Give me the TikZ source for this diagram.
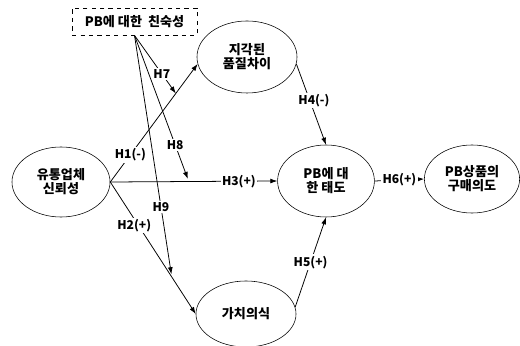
\documentclass[tikz,border=0pt]{standalone}
\usepackage{fontspec}
\setmainfont{Noto Sans CJK KR}
\usetikzlibrary{arrows.meta,shapes.geometric,positioning}

\tikzset{
  var/.style={draw,ellipse,inner sep=0pt,align=center,font=\bfseries\fontsize{9.3}{10}\selectfont},
  hyp/.style={fill=white,inner sep=1pt,font=\bfseries\fontsize{8.6}{9}\selectfont},
  link/.style={->,line width=0.55pt}
}

\begin{document}
\begin{tikzpicture}[>={Latex[length=5pt,width=3.5pt]},x=0.025cm,y=-0.025cm]
\useasboundingbox (0,0) rectangle (520,346);
% constructs
\node[var,minimum width=2.45cm,minimum height=1.75cm] (yutong) at (61,182) {유통업체\\신뢰성};
\node[var,minimum width=2.5cm,minimum height=1.8cm] (jigak) at (247,57) {지각된\\품질차이};
\node[var,minimum width=2.42cm,minimum height=1.8cm] (taedo) at (326,181) {PB에 대\\한 태도};
\node[var,minimum width=2.38cm,minimum height=1.7cm] (gumae) at (472,179) {PB상품의\\구매의도};
\node[var,minimum width=2.5cm,minimum height=1.65cm] (gachi) at (246,314) {가치의식};
\node[draw,dashed,inner sep=0pt,minimum width=3.12cm,minimum height=0.68cm,
  font=\bfseries\fontsize{9.3}{10}\selectfont] (chin) at (134.5,21.5) {PB에 대한\ \ 친숙성};
% main paths
\draw[link] (yutong.east) -- (jigak.188) node[hyp,pos=0.23]{H1(-)} coordinate[pos=0.75] (m1);
\draw[link] (yutong.east) -- (gachi.west) node[hyp,pos=0.33,xshift=-3pt]{H2(+)} coordinate[pos=0.72] (m2);
\draw[link] (yutong.east) -- (taedo.west) node[hyp,pos=0.77]{H3(+)} coordinate[pos=0.47] (m3);
\draw[link] (jigak.352) -- (taedo.north) node[hyp,pos=0.45,xshift=3pt]{H4(-)};
\draw[link] (gachi.8) -- (taedo.south) node[hyp,pos=0.5]{H5(+)};
\draw[link] (taedo.east) -- (gumae.west) node[hyp,pos=0.5]{H6(+)};
% moderation
\draw[link] (chin.south) -- (m1) node[hyp,pos=0.66]{H7};
\draw[link,shorten >=2pt] (chin.south) -- (m3) node[hyp,pos=0.75]{H8};
\draw[link,shorten >=2pt] (chin.south) -- (m2) node[hyp,pos=0.71]{H9};
\end{tikzpicture}
\end{document}
